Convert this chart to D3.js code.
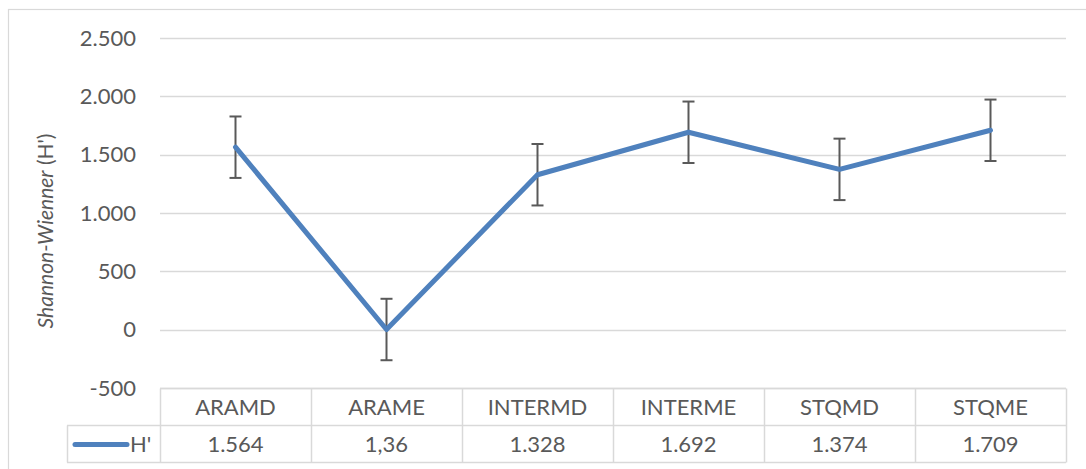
<!DOCTYPE html>
<html>
<head>
<meta charset="utf-8">
<script src="https://cdn.jsdelivr.net/npm/d3@7"></script>
<style>
  html, body { margin: 0; padding: 0; background: #fff; }
  svg { display: block; font-family: "Lato", "Liberation Sans", sans-serif; }
</style>
</head>
<body>
<svg id="chart" width="1086" height="469"></svg>
<script>
// Shannon-Wiener diversity per site/season
const categories = ["ARAMD", "ARAME", "INTERMD", "INTERME", "STQMD", "STQME"];
const hValues = [1564, 1.36, 1328, 1692, 1374, 1709];
const yTicks = [-500, 0, 500, 1000, 1500, 2000, 2500];
const seriesName = "H'";

// Error amount: standard error of the series (sample SD / sqrt(n))
const stdErr = d3.deviation(hValues) / Math.sqrt(hValues.length);

// Number formatting with "." for thousands and "," for decimals
const locale = d3.formatLocale({ decimal: ",", thousands: ".", grouping: [3], currency: ["", ""], minus: "-" });
const fmtTick = locale.format(",d");
const fmtVal = locale.format(",~f");

const svg = d3.select("#chart");
const W = 1086, H = 469;
const plot = { left: 160, right: 1066, top: 38, bottom: 388 };
const rowH = 37;
const legendLeft = 67;
const fs = 22;
const gridColor = "#d9d9d9";
const textColor = "#595959";
const lineColor = "#4f81bd";

// chart frame
svg.append("rect")
  .attr("x", 8.5).attr("y", 9.5)
  .attr("width", W + 10).attr("height", H + 10)
  .attr("fill", "none").attr("stroke", gridColor).attr("stroke-width", 1.2);

const x = d3.scaleBand().domain(categories).range([plot.left, plot.right]);
const y = d3.scaleLinear().domain([-500, 2500]).range([plot.bottom, plot.top]);

// horizontal gridlines
svg.append("g").selectAll("line").data(yTicks).join("line")
  .attr("x1", plot.left).attr("x2", plot.right)
  .attr("y1", d => Math.round(y(d)) + 0.5).attr("y2", d => Math.round(y(d)) + 0.5)
  .attr("stroke", gridColor).attr("stroke-width", 1.5);

// y axis labels
const yAxis = d3.axisLeft(y).tickValues(yTicks).tickFormat(fmtTick).tickSize(0).tickPadding(0);
const yg = svg.append("g").attr("transform", `translate(136,0)`).call(yAxis);
yg.select(".domain").remove();
yg.selectAll("text")
  .attr("fill", textColor).attr("font-size", fs)
  .attr("font-family", "Lato, 'Liberation Sans', sans-serif");

// y axis title
const title = svg.append("text")
  .attr("transform", `translate(53,231) rotate(-90)`)
  .attr("text-anchor", "middle").attr("fill", textColor).attr("font-size", 21);
title.append("tspan").attr("font-style", "italic").text("Shannon-Wienner");
title.append("tspan").text(" (H')");

// data table grid
const tbl = svg.append("g").attr("stroke", gridColor).attr("stroke-width", 1.5).attr("fill", "none");
const r0 = plot.bottom + 0.5, r1 = r0 + rowH, r2 = r1 + rowH;
tbl.append("line").attr("x1", plot.left).attr("x2", plot.right).attr("y1", r0).attr("y2", r0);
tbl.append("line").attr("x1", legendLeft).attr("x2", plot.right).attr("y1", r1).attr("y2", r1);
tbl.append("line").attr("x1", legendLeft).attr("x2", plot.right).attr("y1", r2).attr("y2", r2);
tbl.append("line").attr("x1", legendLeft + 0.5).attr("x2", legendLeft + 0.5).attr("y1", r1).attr("y2", r2);
const colEdges = categories.map(c => x(c)).concat([plot.right]);
tbl.selectAll(".v").data(colEdges).join("line")
  .attr("x1", d => Math.round(d) + 0.5).attr("x2", d => Math.round(d) + 0.5)
  .attr("y1", r0).attr("y2", r2);

// category row and value row
svg.append("g").selectAll("text").data(categories).join("text")
  .attr("x", d => x(d) + x.bandwidth() / 2).attr("y", r0 + rowH / 2 + 8)
  .attr("text-anchor", "middle").attr("fill", textColor).attr("font-size", fs)
  .text(d => d);
svg.append("g").selectAll("text").data(hValues).join("text")
  .attr("x", (d, i) => x(categories[i]) + x.bandwidth() / 2).attr("y", r1 + rowH / 2 + 8)
  .attr("text-anchor", "middle").attr("fill", textColor).attr("font-size", fs)
  .text(d => fmtVal(d));

// legend key in the table
svg.append("line")
  .attr("x1", 75).attr("x2", 127).attr("y1", r1 + rowH / 2 + 0.5).attr("y2", r1 + rowH / 2 + 0.5)
  .attr("stroke", lineColor).attr("stroke-width", 5).attr("stroke-linecap", "round");
svg.append("text")
  .attr("x", 130).attr("y", r1 + rowH / 2 + 8)
  .attr("fill", textColor).attr("font-size", fs).text(seriesName);

// error bars
const cx = (d, i) => x(categories[i]) + x.bandwidth() / 2;
const eb = svg.append("g").attr("stroke", "#595959").attr("stroke-width", 2);
hValues.forEach((v, i) => {
  const px = cx(v, i);
  const yt = y(v + stdErr), yb = y(v - stdErr);
  eb.append("line").attr("x1", px).attr("x2", px).attr("y1", yt).attr("y2", yb);
  eb.append("line").attr("x1", px - 6).attr("x2", px + 6).attr("y1", yt).attr("y2", yt);
  eb.append("line").attr("x1", px - 6).attr("x2", px + 6).attr("y1", yb).attr("y2", yb);
});

// series line
const line = d3.line().x((d, i) => cx(d, i)).y(d => y(d));
svg.append("path").datum(hValues)
  .attr("d", line).attr("fill", "none")
  .attr("stroke", lineColor).attr("stroke-width", 5)
  .attr("stroke-linejoin", "round").attr("stroke-linecap", "round");
</script>
</body>
</html>
